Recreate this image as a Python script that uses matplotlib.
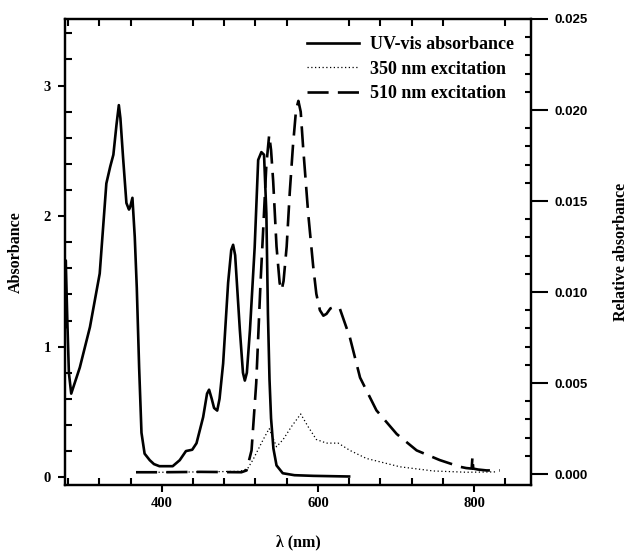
import matplotlib
matplotlib.use("Agg")
import matplotlib.pyplot as plt
from matplotlib.ticker import MultipleLocator, FixedLocator

# UV-vis absorbance (left axis)
uv_nm = [276, 277, 279, 281, 284, 295, 308, 320.5, 329, 334, 338, 342, 345, 347, 350.4,
         354.7, 358, 359.5, 362.4, 365.4, 368, 371, 374, 378, 384.6, 390, 397, 414, 423,
         431, 439, 444.5, 453, 458, 460.6, 464, 467, 471, 474, 478.6, 485, 489, 491.4, 494,
         500, 504, 506.4, 509, 513, 519, 523.5, 527.6, 531, 534, 536, 538, 540, 543, 547,
         555, 570, 594, 640]
uv_abs = [1.15, 1.66, 1.2, 0.8, 0.64, 0.84, 1.15, 1.56, 2.25, 2.38, 2.47, 2.70, 2.85, 2.75, 2.45,
          2.10, 2.05, 2.07, 2.14, 1.84, 1.45, 0.84, 0.34, 0.18, 0.13, 0.10, 0.084, 0.084, 0.13,
          0.20, 0.21, 0.26, 0.46, 0.64, 0.67, 0.60, 0.53, 0.51, 0.60, 0.87, 1.49, 1.74, 1.78, 1.70,
          1.13, 0.80, 0.74, 0.80, 1.13, 1.76, 2.43, 2.49, 2.47, 2.02, 1.25, 0.75, 0.45, 0.22, 0.09,
          0.03, 0.015, 0.01, 0.005]

# 510 nm excitation (right axis)
ex510_nm = [367, 400, 450, 502, 508.6, 515, 521, 526.5, 530, 534, 537.6, 540, 542.7, 547, 551,
            553.5, 556, 560, 564, 568, 572, 575, 578, 581, 587.6, 594, 598, 602.6, 607, 611,
            616, 622, 628, 641, 654, 675, 701, 726.5, 756, 782, 790, 797, 798, 799, 805, 816, 833]
ex510_rel = [0.0001, 0.0001, 0.00012, 0.0001, 0.0002, 0.0013, 0.005, 0.0105, 0.0135, 0.0170,
             0.01863, 0.0178, 0.0161, 0.0125, 0.0105, 0.0101, 0.0106, 0.0125, 0.0155, 0.0180,
             0.0200, 0.0205, 0.0199, 0.0180, 0.0143, 0.0114, 0.0099, 0.0090, 0.0087, 0.0088,
             0.0091, 0.0092, 0.0091, 0.0075, 0.0053, 0.0035, 0.0022, 0.0013, 0.00077, 0.0004,
             0.00033, 0.0003, 0.00095, 0.0003, 0.00025, 0.0002, 0.0002]

# 350 nm excitation (right axis)
ex350_nm = [367, 400, 450, 500, 510, 517, 530, 537.6, 547, 555.5, 566, 578, 587.5, 598, 611,
            626, 641, 662, 705, 748, 790.6, 829]
ex350_rel = [0.0001, 0.0001, 0.00012, 0.00015, 0.0003, 0.0008, 0.0019, 0.0025, 0.0015, 0.0019,
             0.0026, 0.0033, 0.0026, 0.0019, 0.0017, 0.0017, 0.0013, 0.00086, 0.0004, 0.00017,
             0.0001, 0.00012]

xticks_major = [400, 600, 800]
yticks_left = [0, 1, 2, 3]
yticks_right = [0.000, 0.005, 0.010, 0.015, 0.020, 0.025]

serif = ['Liberation Serif', 'DejaVu Serif']
sans = ['Liberation Sans', 'DejaVu Sans']

fig = plt.figure(figsize=(6.29, 5.52), dpi=100)
ax = fig.add_axes([0.1033, 0.1214, 0.7409, 0.8442])
ax2 = ax.twinx()

l1, = ax.plot(uv_nm, uv_abs, color='black', lw=1.9, solid_joinstyle='round')
l2, = ax2.plot(ex350_nm, ex350_rel, color='black', lw=0.9, linestyle=(0, (1, 2)))
l3, = ax2.plot(ex510_nm, ex510_rel, color='black', lw=1.9, linestyle=(0, (8, 3.5)))

ax.set_xlim(276, 873)
ax.set_ylim(-0.06, 3.51)
ax2.set_ylim(-0.0006, 0.0250)

ax.xaxis.set_major_locator(FixedLocator(xticks_major))
ax.xaxis.set_minor_locator(MultipleLocator(40))
ax.yaxis.set_major_locator(FixedLocator(yticks_left))
ax.yaxis.set_minor_locator(MultipleLocator(0.2))
ax2.yaxis.set_major_locator(FixedLocator(yticks_right))
ax2.yaxis.set_minor_locator(MultipleLocator(0.001))

ax.tick_params(axis='x', which='major', direction='out', length=5, width=1.5, pad=4, top=False)
ax.tick_params(axis='x', which='minor', direction='in', length=5, width=1.5, top=True)
ax.tick_params(axis='y', which='major', direction='out', length=5, width=1.5, pad=5)
ax.tick_params(axis='y', which='minor', direction='in', length=5, width=1.5)
ax2.tick_params(axis='y', which='major', direction='out', length=12, width=1.5, pad=5)
ax2.tick_params(axis='y', which='minor', direction='in', length=4, width=1.5)

for a in (ax, ax2):
    for s in a.spines.values():
        s.set_linewidth(1.6)

ax.set_xticklabels([str(v) for v in xticks_major], fontfamily=serif, fontweight='bold', fontsize=10.5)
ax.set_yticklabels([str(v) for v in yticks_left], fontfamily=serif, fontweight='bold', fontsize=10.5)
ax2.set_yticklabels(['%.3f' % v for v in yticks_right], fontfamily=sans, fontweight='bold', fontsize=9.5)

ax.set_xlabel('λ (nm)', fontfamily=serif, fontweight='bold', fontsize=11.5, labelpad=17)
ax.set_ylabel('Absorbance', fontfamily=serif, fontweight='bold', fontsize=11.5, labelpad=14)
ax2.set_ylabel('Relative absorbance', fontfamily=serif, fontweight='bold', fontsize=11.5,
               rotation=90, labelpad=18)

leg = ax2.legend([l1, l2, l3], ['UV-vis absorbance', '350 nm excitation', '510 nm excitation'],
                 loc='upper right', frameon=False, handlelength=2.9, handletextpad=0.6,
                 borderaxespad=0.55, labelspacing=0.42,
                 prop={'family': serif, 'weight': 'bold', 'size': 13})

fig.savefig('out.png', dpi=100)
